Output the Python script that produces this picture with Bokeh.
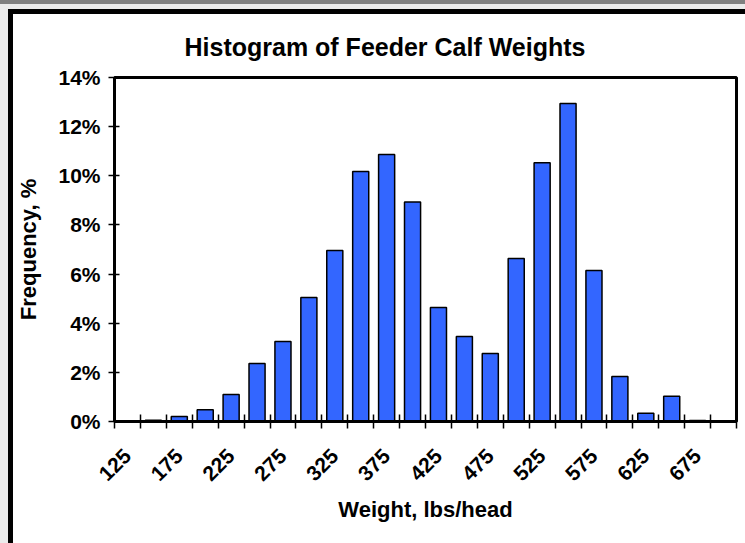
import math
from bokeh.plotting import figure
from bokeh.layouts import row, column
from bokeh.models import FixedTicker, PrintfTickFormatter, Range1d, Title, Div
from bokeh.embed import file_html
from bokeh.resources import INLINE

# ---- data ----
weights = [125, 150, 175, 200, 225, 250, 275, 300, 325, 350, 375, 400,
           425, 450, 475, 500, 525, 550, 575, 600, 625, 650, 675, 700]
freq_pct = [0.0, 0.05, 0.2, 0.48, 1.1, 2.36, 3.26, 5.05, 6.96, 10.17, 10.87, 8.93,
            4.64, 3.46, 2.77, 6.63, 10.53, 12.94, 6.15, 1.83, 0.34, 1.03, 0.04, 0.0]
x_tick_labels = ["125", "175", "225", "275", "325", "375", "425", "475",
                 "525", "575", "625", "675"]
y_ticks = [0, 2, 4, 6, 8, 10, 12, 14]

title_text = "Histogram of Feeder Calf Weights"
x_title = "Weight, lbs/head"
y_title = "Frequency, %"

FONT = "Liberation Sans"

step = weights[1] - weights[0]
x_major = [float(s) for s in x_tick_labels]
x_minor = [w - step / 2 for w in weights] + [weights[-1] + step / 2]

p = figure(width=732, height=529, output_backend="svg", toolbar_location=None,
           x_range=Range1d(weights[0] - step / 2, weights[-1] + step / 2),
           y_range=Range1d(y_ticks[0], y_ticks[-1]),
           min_border_left=100, min_border_right=9, min_border_top=63,
           min_border_bottom=122,
           background_fill_color="white", border_fill_color="white",
           outline_line_color="black", outline_line_width=3)

p.title = Title(text=title_text, align="left", text_font=FONT,
                text_font_size="25px", text_font_style="bold",
                text_color="black", offset=70, standoff=33)

p.xgrid.visible = False
p.ygrid.visible = False

p.vbar(x=weights, top=freq_pct, width=step * 0.62, bottom=0,
       fill_color="#3366FF", line_color="black", line_width=1.5)

xa = p.xaxis[0]
xa.ticker = FixedTicker(ticks=x_major, minor_ticks=x_minor)
xa.major_label_overrides = {float(s): s for s in x_tick_labels}
xa.major_tick_line_color = None
xa.major_tick_in = 0
xa.major_tick_out = 0
xa.minor_tick_in = 7
xa.minor_tick_out = 7
xa.minor_tick_line_color = "black"
xa.minor_tick_line_width = 1.5
xa.axis_line_color = "black"
xa.axis_line_width = 3
xa.major_label_orientation = math.pi / 4
xa.major_label_standoff = 24
xa.major_label_text_font = FONT
xa.major_label_text_font_size = "21px"
xa.major_label_text_font_style = "bold"
xa.major_label_text_color = "black"
xa.axis_label = x_title
xa.axis_label_text_font = FONT
xa.axis_label_text_font_size = "22px"
xa.axis_label_text_font_style = "bold"
xa.axis_label_text_color = "black"
xa.axis_label_standoff = 7

ya = p.yaxis[0]
ya.ticker = FixedTicker(ticks=y_ticks)
ya.formatter = PrintfTickFormatter(format="%d%%")
ya.major_tick_in = 5
ya.major_tick_out = 6
ya.major_tick_line_color = "black"
ya.major_tick_line_width = 1.5
ya.minor_tick_line_color = None
ya.axis_line_color = "black"
ya.axis_line_width = 3
ya.major_label_standoff = 8
ya.major_label_text_font = FONT
ya.major_label_text_font_size = "21px"
ya.major_label_text_font_style = "bold"
ya.major_label_text_color = "black"
ya.axis_label = y_title
ya.axis_label_text_font = FONT
ya.axis_label_text_font_size = "22px"
ya.axis_label_text_font_style = "bold"
ya.axis_label_text_color = "black"
ya.axis_label_standoff = 14

# window chrome: gray band on top, light margin on the left, black frame edge
left_strip = Div(text="", width=13, height=543, margin=0, styles={
    "background-image": (
        "linear-gradient(to bottom, #808080 0px, #808080 4px, transparent 4px), "
        "linear-gradient(to bottom, #ebebeb 0px, #ebebeb 9px, transparent 9px), "
        "linear-gradient(to right, #ebebeb 0px, #ebebeb 8px, #000000 8px)"
    )})
top_strip = Div(text="", width=732, height=14, margin=0, styles={
    "background-image": (
        "linear-gradient(to bottom, #808080 0px, #808080 4px, #ebebeb 4px, "
        "#ebebeb 9px, #000000 9px)"
    )})

page = row(left_strip, column(top_strip, p, spacing=0), spacing=0)

open("out.html", "w").write(file_html(page, INLINE))
